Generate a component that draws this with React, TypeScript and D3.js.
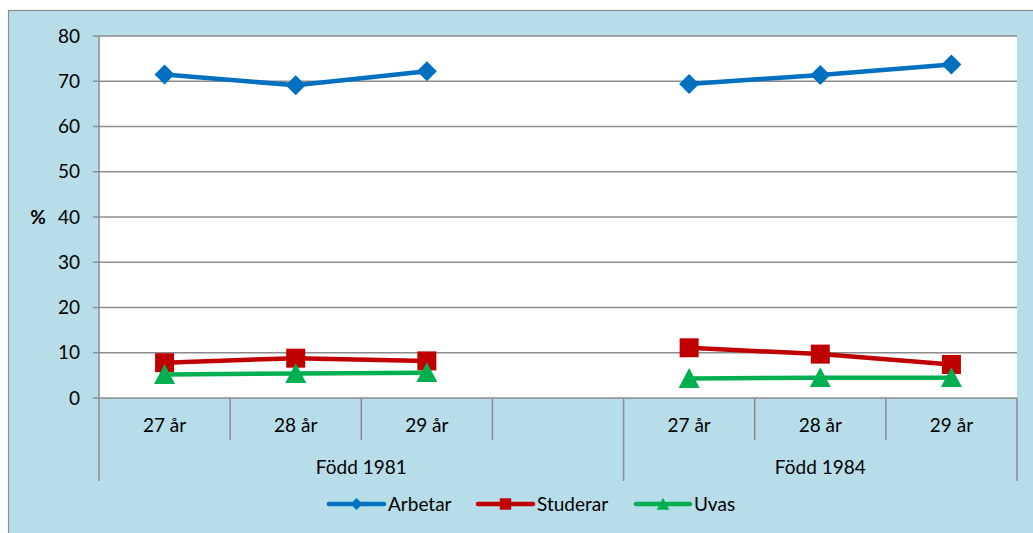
import React from "react";
import * as d3 from "d3";

const ages = ["27 år", "28 år", "29 år", "", "27 år", "28 år", "29 år"];
const groups = [
  { label: "Född 1981", start: 0, span: 4 },
  { label: "Född 1984", start: 4, span: 3 },
];
const arbetar: (number | null)[] = [71.5, 69.1, 72.2, null, 69.4, 71.4, 73.7];
const studerar: (number | null)[] = [7.8, 8.8, 8.2, null, 11.1, 9.7, 7.4];
const uvas: (number | null)[] = [5.2, 5.4, 5.6, null, 4.3, 4.5, 4.5];
const yTicks = [0, 10, 20, 30, 40, 50, 60, 70, 80];

const series = [
  { name: "Arbetar", values: arbetar, color: "#0070C0", marker: "diamond" },
  { name: "Studerar", values: studerar, color: "#C00000", marker: "square" },
  { name: "Uvas", values: uvas, color: "#00B050", marker: "triangle" },
];

const W = 1033, H = 533;
const L = 99, R = 1017, T = 36, B = 398;
const FONT = "Lato, 'Open Sans', sans-serif";
const GRID = "#8c8c8c";
const FS = 19;

function Marker({ type, x, y, color, s = 1 }: { type: string; x: number; y: number; color: string; s?: number }) {
  if (type === "diamond") {
    const r = 10 * s;
    return <path d={`M${x},${y - r}L${x + r},${y}L${x},${y + r}L${x - r},${y}Z`} fill={color} />;
  }
  if (type === "square") {
    const r = 9.5 * s;
    return <rect x={x - r} y={y - r} width={2 * r} height={2 * r} fill={color} />;
  }
  const r = 10.5 * s;
  return <path d={`M${x},${y - r}L${x + r},${y + r * 0.9}L${x - r},${y + r * 0.9}Z`} fill={color} />;
}

export default function App() {
  const x = d3.scaleBand<number>().domain(d3.range(ages.length)).range([L, R]).padding(0);
  const y = d3.scaleLinear().domain([0, 80]).range([B, T]);
  const bw = x.bandwidth();
  const cx = (i: number) => (x(i) as number) + bw / 2;

  const line = d3
    .line<number | null>()
    .defined((d) => d !== null)
    .x((_, i) => cx(i))
    .y((d) => y(d as number));

  const boundaries = d3.range(ages.length + 1).map((i) => L + i * bw);
  const groupEdges = new Set<number>();
  groups.forEach((g) => {
    groupEdges.add(g.start);
    groupEdges.add(g.start + g.span);
  });

  const legend = [
    { s: series[0], x0: 329, x1: 384, tx: 388 },
    { s: series[1], x0: 478, x1: 533, tx: 537 },
    { s: series[2], x0: 636, x1: 690, tx: 694 },
  ];

  return (
    <svg width={W} height={H} style={{ position: "absolute", left: 0, top: 0 }} fontFamily={FONT}>
      <rect x={0} y={0} width={W} height={H} fill="#fff" />
      <rect x={8.5} y={10.5} width={W + 10} height={H + 10} fill="#B7DDE8" stroke={GRID} strokeWidth={1.2} />
      <rect x={L} y={T} width={R - L} height={B - T} fill="#fff" />
      {yTicks.map((t) => (
        <g key={t}>
          <line x1={L - 6} x2={R} y1={y(t)} y2={y(t)} stroke={GRID} strokeWidth={1.5} />
          <text x={80} y={y(t)} dy="0.35em" textAnchor="end" fontSize={FS} fill="#000">
            {t}
          </text>
        </g>
      ))}
      <line x1={L} x2={L} y1={T} y2={481} stroke={GRID} strokeWidth={1.5} />
      {boundaries.map((bx, i) =>
        i === 0 ? null : (
          <line key={i} x1={bx} x2={bx} y1={B} y2={groupEdges.has(i) ? 481 : 440} stroke={GRID} strokeWidth={1.5} />
        )
      )}
      {ages.map((a, i) => (
        <text key={i} x={cx(i)} y={425} dy="0.35em" textAnchor="middle" fontSize={FS}>
          {a}
        </text>
      ))}
      {groups.map((g) => (
        <text key={g.label} x={L + (g.start + g.span / 2) * bw} y={467} dy="0.35em" textAnchor="middle" fontSize={FS}>
          {g.label}
        </text>
      ))}
      <text x={38} y={217} dy="0.35em" textAnchor="middle" fontSize={FS} fontWeight="bold">
        %
      </text>
      {series.map((s) => (
        <g key={s.name}>
          <path d={line(s.values) || ""} fill="none" stroke={s.color} strokeWidth={4.5} strokeLinejoin="round" />
          {s.values.map((v, i) =>
            v === null ? null : <Marker key={i} type={s.marker} x={cx(i)} y={y(v)} color={s.color} />
          )}
        </g>
      ))}
      {legend.map(({ s, x0, x1, tx }) => (
        <g key={s.name}>
          <line x1={x0} x2={x1} y1={504} y2={504} stroke={s.color} strokeWidth={4.5} strokeLinecap="round" />
          <Marker type={s.marker} x={(x0 + x1) / 2} y={504} color={s.color} s={0.6} />
          <text x={tx} y={504} dy="0.35em" fontSize={FS}>
            {s.name}
          </text>
        </g>
      ))}
    </svg>
  );
}
